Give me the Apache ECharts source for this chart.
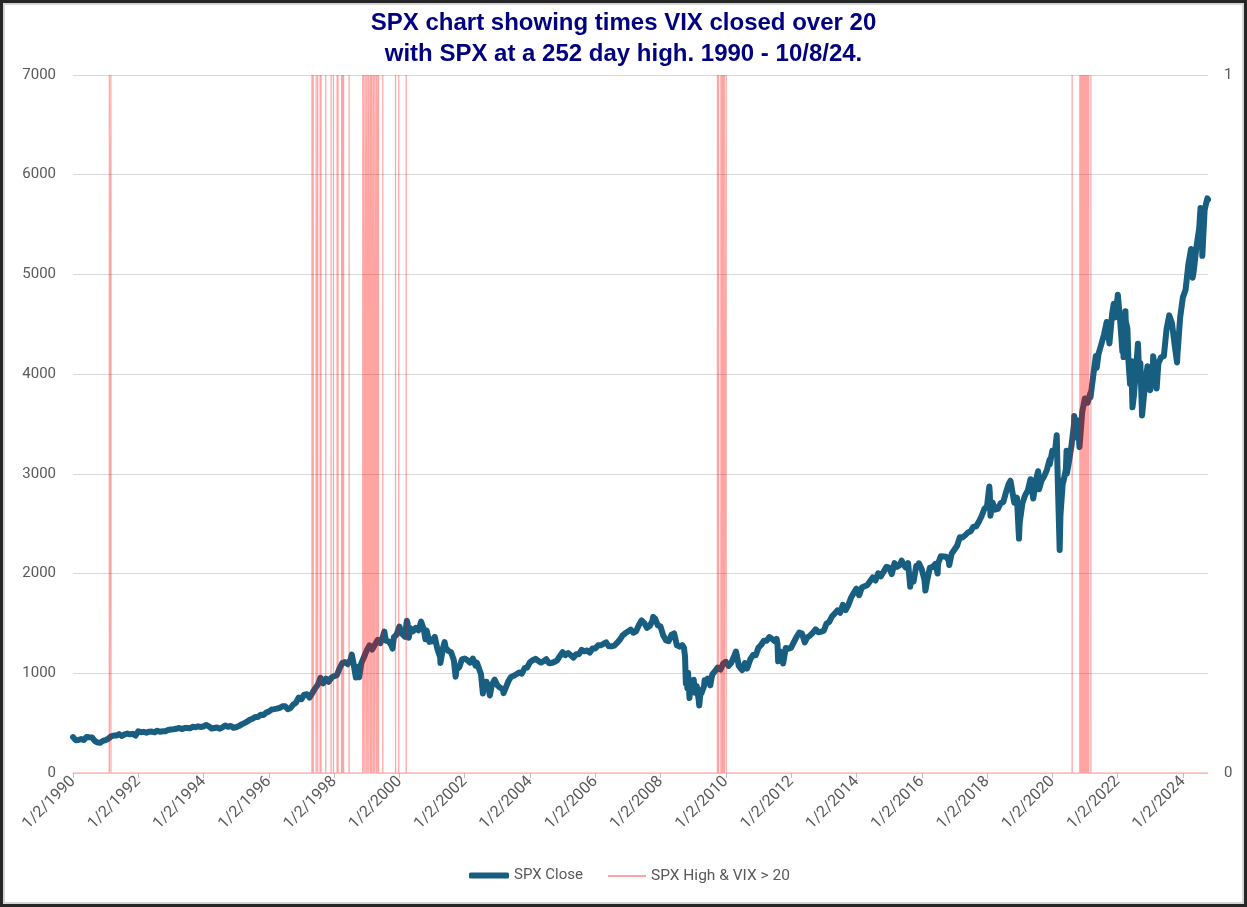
<!DOCTYPE html>
<html>
<head>
<meta charset="utf-8">
<title>SPX and VIX</title>
<script src="https://cdn.jsdelivr.net/npm/echarts@6/dist/echarts.min.js"></script>
<style>
html, body { margin: 0; padding: 0; background: #fff; }
#main { position: absolute; left: 0; top: 0; width: 1247px; height: 907px; }
#frame { position: absolute; left: 0; top: 0; width: 1247px; height: 907px; box-sizing: border-box;
  border: 3px solid #262626; box-shadow: inset 0 0 0 2px #d6d6d6; pointer-events: none; }
</style>
</head>
<body>
<div id="main"></div>
<div id="frame"></div>
<script>
// SPX month-end closes, Jan 1990 .. Sep 2024
var spxMonthly = [
  329.1, 331.9, 339.9, 330.8, 361.2, 358.0, 356.2, 322.6, 306.1, 304.0, 322.2, 330.2,
  343.9, 367.1, 375.2, 375.3, 389.8, 371.2, 387.8, 395.4, 387.9, 392.5, 375.2, 417.1,
  408.8, 412.7, 403.7, 414.9, 415.4, 408.1, 424.2, 414.0, 417.8, 418.7, 431.4, 435.7,
  438.8, 443.4, 451.7, 440.2, 450.2, 451.0, 448.1, 463.6, 458.9, 467.8, 461.8, 466.5,
  481.6, 467.1, 445.8, 450.9, 456.5, 444.3, 458.3, 475.5, 462.7, 472.4, 453.7, 459.3,
  470.4, 487.4, 500.7, 514.7, 533.4, 544.8, 562.1, 561.9, 584.4, 581.5, 605.4, 615.9,
  636.0, 640.4, 645.5, 654.2, 669.1, 670.6, 639.9, 652.0, 687.3, 705.3, 757.0, 740.7,
  786.2, 790.8, 757.1, 801.3, 848.3, 885.1, 954.3, 899.5, 947.3, 914.6, 955.4, 970.4,
  980.3, 1049.3, 1101.8, 1111.8, 1090.8, 1133.8, 1120.7, 957.3, 1017.0, 1098.7, 1163.6, 1229.2,
  1279.6, 1238.3, 1286.4, 1335.2, 1301.8, 1372.7, 1328.7, 1320.4, 1282.7, 1362.9, 1389.0, 1469.3,
  1394.5, 1366.4, 1498.6, 1452.4, 1420.6, 1454.6, 1430.8, 1517.7, 1436.5, 1429.4, 1315.2, 1320.3,
  1366.0, 1239.9, 1160.3, 1249.5, 1255.8, 1224.4, 1211.2, 1133.6, 1040.9, 1059.8, 1139.5, 1148.1,
  1130.2, 1106.7, 1147.4, 1076.9, 1067.1, 989.8, 911.6, 916.1, 815.3, 885.8, 936.3, 879.8,
  855.7, 841.2, 848.2, 916.9, 963.6, 974.5, 990.3, 1008.0, 996.0, 1050.7, 1058.2, 1111.9,
  1131.1, 1144.9, 1126.2, 1107.3, 1120.7, 1140.8, 1101.7, 1104.2, 1114.6, 1130.2, 1173.8, 1211.9,
  1181.3, 1203.6, 1180.6, 1156.9, 1191.5, 1191.3, 1234.2, 1220.3, 1228.8, 1207.0, 1249.5, 1248.3,
  1280.1, 1280.7, 1294.8, 1310.6, 1270.1, 1270.2, 1276.7, 1303.8, 1335.9, 1377.9, 1400.6, 1418.3,
  1438.2, 1406.8, 1420.9, 1482.4, 1530.6, 1503.4, 1455.3, 1474.0, 1526.8, 1549.4, 1481.1, 1468.4,
  1378.6, 1330.6, 1322.7, 1385.6, 1400.4, 1280.0, 1267.4, 1282.8, 1166.4, 968.8, 896.2, 903.3,
  825.9, 735.1, 797.9, 872.8, 919.1, 919.3, 987.5, 1020.6, 1057.1, 1036.2, 1095.6, 1115.1,
  1073.9, 1104.5, 1169.4, 1186.7, 1089.4, 1030.7, 1101.6, 1049.3, 1141.2, 1183.3, 1180.6, 1257.6,
  1286.1, 1327.2, 1325.8, 1363.6, 1345.2, 1320.6, 1292.3, 1218.9, 1131.4, 1253.3, 1247.0, 1257.6,
  1312.4, 1365.7, 1408.5, 1397.9, 1310.3, 1362.2, 1379.3, 1406.6, 1440.7, 1412.2, 1416.2, 1426.2,
  1498.1, 1514.7, 1569.2, 1597.6, 1630.7, 1606.3, 1685.7, 1633.0, 1681.6, 1756.5, 1805.8, 1848.4,
  1782.6, 1859.5, 1872.3, 1884.0, 1923.6, 1960.2, 1930.7, 2003.4, 1972.3, 2018.1, 2067.6, 2058.9,
  1995.0, 2104.5, 2067.9, 2085.5, 2107.4, 2063.1, 2103.8, 1972.2, 1920.0, 2079.4, 2080.4, 2043.9,
  1940.2, 1932.2, 2059.7, 2065.3, 2097.0, 2098.9, 2173.6, 2171.0, 2168.3, 2126.2, 2198.8, 2238.8,
  2278.9, 2363.6, 2362.7, 2384.2, 2411.8, 2423.4, 2470.3, 2471.7, 2519.4, 2575.3, 2647.6, 2673.6,
  2823.8, 2713.8, 2640.9, 2648.1, 2705.3, 2718.4, 2816.3, 2901.5, 2914.0, 2711.7, 2760.2, 2506.9,
  2704.1, 2784.5, 2834.4, 2945.8, 2752.1, 2941.8, 2980.4, 2926.5, 2976.7, 3037.6, 3141.0, 3230.8,
  3225.5, 2954.2, 2584.6, 2912.4, 3044.3, 3100.3, 3271.1, 3500.3, 3363.0, 3270.0, 3621.6, 3756.1,
  3714.2, 3811.2, 3972.9, 4181.2, 4204.1, 4297.5, 4395.3, 4522.7, 4307.5, 4605.4, 4567.0, 4766.2,
  4515.6, 4373.9, 4530.4, 4131.9, 4132.2, 3785.4, 4130.3, 3955.0, 3585.6, 3872.0, 4080.1, 3839.5,
  4076.6, 3970.2, 4109.3, 4169.5, 4179.8, 4450.4, 4589.0, 4507.7, 4288.1, 4193.8, 4567.8, 4769.8,
  4845.7, 5096.3, 5254.4, 5035.7, 5277.5, 5460.5, 5522.3, 5648.4, 5762.5
];

// intra-month closes (peaks, troughs, first and last day, a few mid-month readings)
var spxExtraDates = [
  '1990-01-02', '1990-07-16', '1990-10-11', '1998-07-17', '1998-09-23', '1998-10-08', '1999-07-16',
  '1999-10-15', '2000-03-24', '2000-04-14', '2000-09-01', '2000-10-18', '2001-04-04', '2001-05-21',
  '2001-09-21', '2002-05-17', '2002-07-23', '2002-10-09', '2003-03-11', '2007-10-09', '2008-09-19',
  '2008-10-10', '2008-10-13', '2008-10-27', '2008-11-04', '2008-11-20', '2008-12-08', '2009-01-06',
  '2009-01-20', '2009-02-09', '2009-03-09', '2009-03-26', '2009-05-08', '2009-06-12', '2009-07-10',
  '2010-04-23', '2010-05-25', '2010-07-02', '2010-08-26', '2011-07-22', '2011-08-08', '2011-10-03',
  '2015-05-21', '2015-08-25', '2015-12-01', '2016-02-11', '2016-06-27', '2016-11-04', '2018-01-26',
  '2018-02-08', '2018-09-20', '2018-12-24', '2019-06-03', '2019-07-26', '2019-08-05', '2019-12-03',
  '2020-02-19', '2020-03-23', '2020-04-29', '2020-06-08', '2020-06-11', '2020-09-02', '2020-10-12',
  '2021-03-04', '2021-05-12', '2021-09-02', '2021-11-18', '2022-01-03', '2022-02-23', '2022-03-08',
  '2022-03-29', '2022-04-20', '2022-05-20', '2022-06-16', '2022-07-14', '2022-08-16', '2022-09-12',
  '2022-10-12', '2022-12-13', '2023-02-02', '2023-03-13', '2023-10-27', '2024-04-19', '2024-07-16',
  '2024-08-05', '2024-10-08'
];
var spxExtraValues = [
  359.7, 368.9, 295.5, 1186.8, 1066.1, 959.4, 1418.8,
  1247.4, 1527.5, 1356.6, 1520.8, 1342.1, 1103.3, 1312.8,
  965.8, 1106.6, 797.7, 776.8, 800.7, 1565.2, 1255.1,
  899.2, 1003.4, 848.9, 1005.8, 752.4, 909.7, 934.7,
  805.2, 869.9, 676.5, 832.9, 929.2, 946.2, 879.1,
  1217.3, 1074.0, 1022.6, 1047.2, 1345.0, 1119.5, 1099.2,
  2130.8, 1867.6, 2102.6, 1829.1, 2000.5, 2085.2, 2872.9,
  2581.0, 2930.8, 2351.1, 2744.5, 3025.9, 2844.7, 3093.2,
  3386.2, 2237.4, 2939.5, 3232.4, 3002.1, 3580.8, 3534.2,
  3768.5, 4063.0, 4537.0, 4704.5, 4796.6, 4225.5, 4170.7,
  4631.6, 4459.5, 3901.4, 3666.8, 3790.4, 4305.2, 4110.4,
  3577.0, 4019.7, 4179.8, 3855.8, 4117.4, 4967.2, 5667.2,
  5186.3, 5751.1
];

// days with SPX at a 252 day high and VIX close over 20
var eventDates = [
  '1991-02-11', '1991-03-01',
  '1997-04-28', '1997-05-12', '1997-06-13', '1997-07-01', '1997-07-28', '1997-08-07', '1997-09-29',
  '1997-11-28', '1997-12-24', '1998-02-03', '1998-02-13', '1998-03-25', '1998-04-06', '1998-04-16',
  '1998-06-17', '1998-11-17', '1998-12-02', '1998-12-21', '1999-01-05', '1999-01-22', '1999-02-08',
  '1999-02-22', '1999-03-11', '1999-03-25', '1999-04-13', '1999-04-27', '1999-05-12', '1999-06-29',
  '1999-11-18', '1999-12-24', '2000-03-17',
  '2009-09-28', '2009-10-12', '2009-11-06', '2009-11-20', '2009-12-01', '2009-12-14', '2010-01-04',
  '2020-08-10',
  '2020-11-04', '2020-11-09', '2020-11-13', '2020-11-18', '2020-11-24', '2020-11-27', '2020-12-02',
  '2020-12-07', '2020-12-11', '2020-12-16', '2020-12-21', '2020-12-28', '2020-12-31', '2021-01-06',
  '2021-01-08', '2021-01-13', '2021-01-19', '2021-01-22', '2021-01-27', '2021-02-02', '2021-02-05',
  '2021-02-10', '2021-02-12',
  '2021-03-08'
];

var startDate = '1990-01-02';
var endDate = '2024-10-08';

function toYear(s) {
  var p = s.split('-').map(Number);
  var a = Date.UTC(p[0], 0, 1), b = Date.UTC(p[0] + 1, 0, 1);
  return p[0] + (Date.UTC(p[0], p[1] - 1, p[2]) - a) / (b - a);
}

var spxData = [];
spxMonthly.forEach(function (v, i) {
  var y = 1990 + Math.floor(i / 12), m = i % 12;
  spxData.push([y + (m + 1) / 12 - 0.002, v]);
});
spxExtraDates.forEach(function (d, i) {
  spxData.push([toYear(d), spxExtraValues[i]]);
});
spxData.sort(function (a, b) { return a[0] - b[0]; });

var eps = 0.6 / 365;
var flagData = [[toYear(startDate), 0]];
eventDates.forEach(function (d) {
  var x = toYear(d);
  flagData.push([x - eps, 0], [x, 1], [x + eps, 0]);
});
flagData.push([toYear(endDate), 0]);

var gray = '#595959';
var font = 'Roboto, "Liberation Sans", sans-serif';
var blue = '#175e80';
var pink = 'rgba(255,0,0,0.36)';

var chart = echarts.init(document.getElementById('main'));
chart.setOption({
  animation: false,
  backgroundColor: '#fff',
  title: {
    text: 'SPX chart showing times VIX closed over 20\nwith SPX at a 252 day high. 1990 - 10/8/24.',
    left: 'center',
    top: 8,
    padding: 0,
    textStyle: { fontFamily: '"Liberation Sans", Arial, sans-serif', fontSize: 24, fontWeight: 'bold', color: '#000080', lineHeight: 31, align: 'center' }
  },
  legend: [{
    data: ['SPX Close'],
    left: 469, top: 868, padding: 0,
    icon: 'roundRect', itemWidth: 40, itemHeight: 6, itemGap: 0,
    textStyle: { color: gray, fontSize: 15, fontFamily: font }
  }, {
    data: ['SPX High & VIX > 20'],
    left: 608, top: 868, padding: 0,
    icon: 'rect', itemWidth: 38, itemHeight: 2, itemGap: 0,
    textStyle: { color: gray, fontSize: 15.5, fontFamily: font }
  }],
  grid: { left: 73, right: 39, top: 75, bottom: 134, outerBoundsMode: 'none' },
  xAxis: {
    type: 'value',
    min: 1990,
    max: toYear(endDate),
    interval: 2,
    splitLine: { show: false },
    axisLine: { lineStyle: { color: '#d9d9d9' } },
    axisTick: { show: true, length: 5, lineStyle: { color: '#bfbfbf' } },
    axisLabel: {
      rotate: 45,
      margin: 6,
      color: gray,
      fontSize: 16,
      fontFamily: font,
      showMaxLabel: false,
      formatter: function (v) {
        return (Math.abs(v - Math.round(v)) < 1e-6 && Math.round(v) % 2 === 0) ? '1/2/' + Math.round(v) : '';
      }
    }
  },
  yAxis: [{
    type: 'value',
    min: 0, max: 7000, interval: 1000,
    axisLine: { show: false },
    axisTick: { show: false },
    splitLine: { lineStyle: { color: '#d9d9d9', width: 1 } },
    axisLabel: { color: gray, fontSize: 15, fontFamily: font, margin: 17, formatter: function (v) { return String(v); } }
  }, {
    type: 'value',
    min: 0, max: 1, interval: 1,
    position: 'right',
    axisLine: { show: false },
    axisTick: { show: false },
    splitLine: { show: false },
    axisLabel: { color: gray, fontSize: 15, fontFamily: font, margin: 16 }
  }],
  series: [{
    name: 'SPX Close',
    type: 'line',
    data: spxData,
    showSymbol: false,
    symbol: 'none',
    itemStyle: { color: blue },
    lineStyle: { color: blue, width: 6, cap: 'round', join: 'round' },
    z: 2
  }, {
    name: 'SPX High & VIX > 20',
    type: 'line',
    yAxisIndex: 1,
    data: flagData,
    showSymbol: false,
    symbol: 'none',
    itemStyle: { color: pink },
    lineStyle: { color: pink, width: 1.2 },
    z: 3
  }]
});
</script>
</body>
</html>
